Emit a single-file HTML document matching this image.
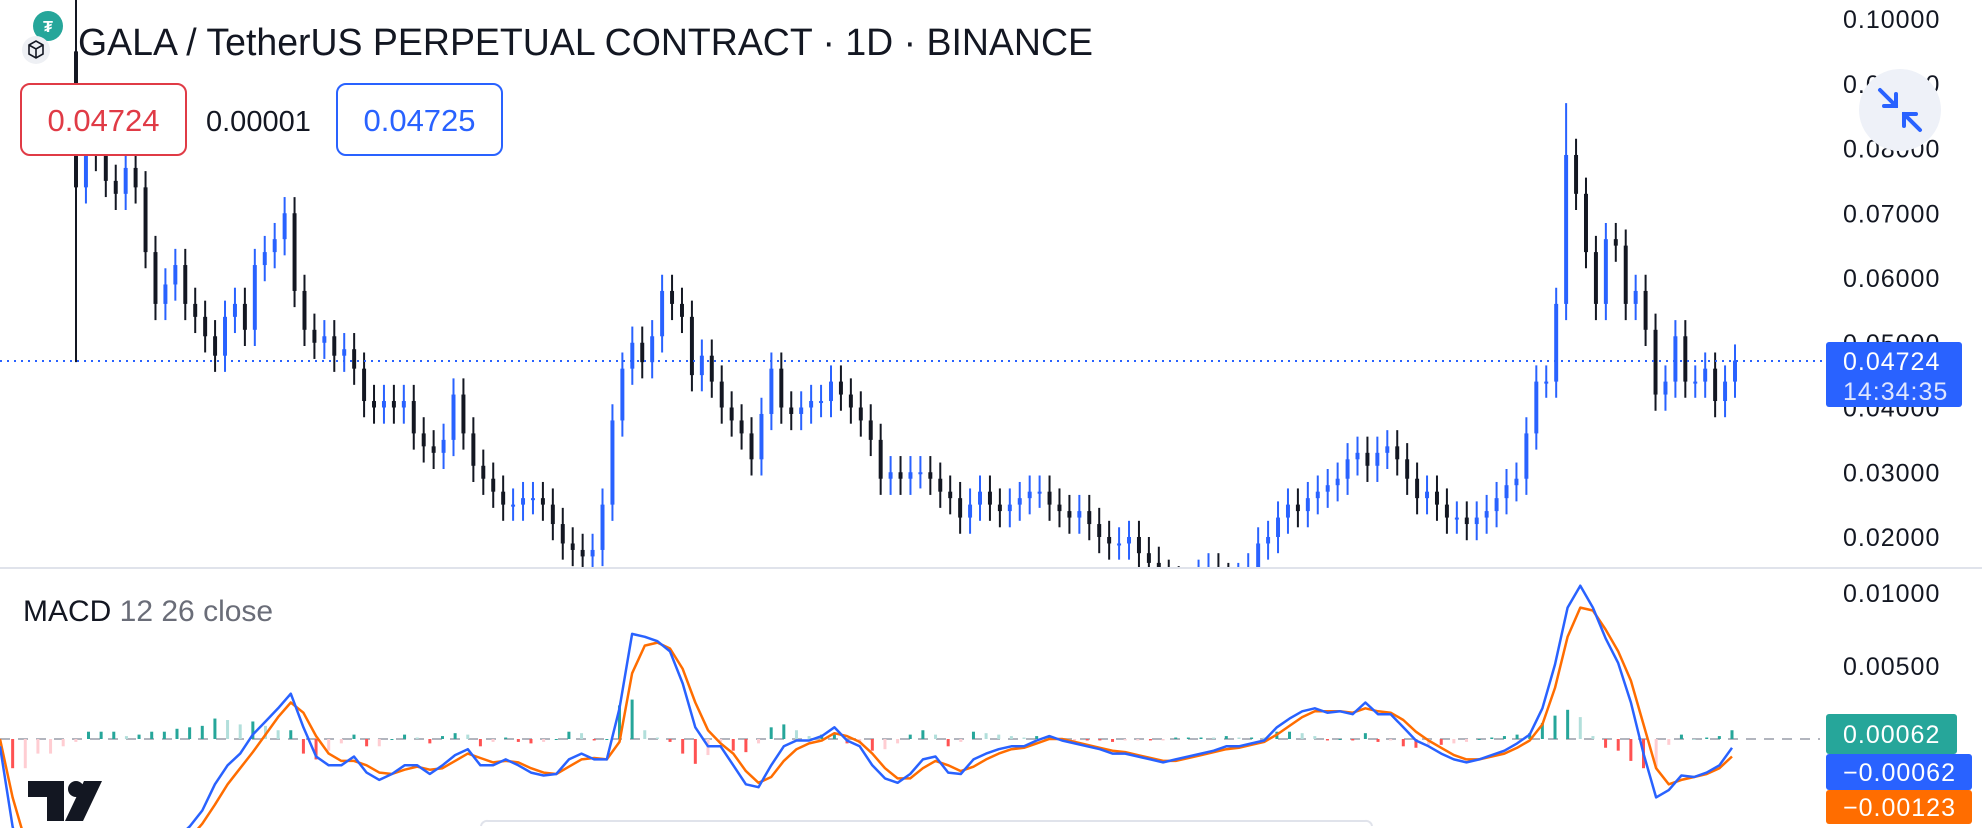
<!DOCTYPE html>
<html><head><meta charset="utf-8"><style>
html,body{margin:0;padding:0;background:#fff;width:1982px;height:828px;overflow:hidden;font-family:"Liberation Sans",sans-serif}
svg{display:block}
</style></head><body>
<svg id="c" width="1982" height="828" viewBox="0 0 1982 828" xmlns="http://www.w3.org/2000/svg" font-family="Liberation Sans, sans-serif">
<defs>
<clipPath id="pc"><rect x="0" y="0" width="1820" height="567"/></clipPath>
<clipPath id="mc"><rect x="0" y="569" width="1820" height="259"/></clipPath>
</defs>
<g id="priceG" clip-path="url(#pc)"></g>
<g id="macdG" clip-path="url(#mc)"></g>
<line x1="0" y1="568" x2="1982" y2="568" stroke="#e0e3eb" stroke-width="2"/>
<g id="axisG"></g>
<g id="maxisG"></g>

<line x1="0" y1="361" x2="1826" y2="361" stroke="#2962ff" stroke-width="2" stroke-dasharray="2,5" id="curLine"/>

<g>
<circle cx="48" cy="26" r="15" fill="#26a69a"/>
<text x="48" y="32" font-size="16" fill="#fff" text-anchor="middle" font-weight="bold">₮</text>
<circle cx="36" cy="50" r="14" fill="#eef0f4"/>
<path d="M29 45 l7 -4 l7 4 v9 l-7 4 l-7 -4z M29 45 l7 4 l7 -4 M36 49 v9" fill="none" stroke="#131722" stroke-width="1.6"/>
</g>
<text x="78" y="55" font-size="38" fill="#131722" textLength="1015" lengthAdjust="spacingAndGlyphs">GALA / TetherUS PERPETUAL CONTRACT · 1D · BINANCE</text>

<g>
<rect x="21" y="84" width="165" height="71" rx="9" fill="#fff" stroke="#e03b46" stroke-width="2"/>
<text x="103.5" y="131" font-size="31" fill="#e03b46" text-anchor="middle">0.04724</text>
</g>
<text x="206" y="131" font-size="29" fill="#131722">0.00001</text>
<g>
<rect x="337" y="84" width="165" height="71" rx="9" fill="#fff" stroke="#2962ff" stroke-width="2"/>
<text x="419.5" y="131" font-size="31" fill="#2962ff" text-anchor="middle">0.04725</text>
</g>

<text x="23" y="621" font-size="30" fill="#131722">MACD <tspan fill="#6a6d78">12 26 close</tspan></text>

<g>
<path d="M28 781 h36 v40 h-17 v-24 h-19z" fill="#131722"/>
<circle cx="76" cy="789" r="8" fill="#131722"/>
<path d="M84 781 h18 l-19 40 h-18z" fill="#131722"/>
</g>

<path d="M481 826 a6 6 0 0 1 7 -5 h877 a6 6 0 0 1 7 5" fill="#fff" stroke="#e0e3eb" stroke-width="2"/>

<g>
<circle cx="1900" cy="110" r="41" fill="#eef1f8"/>
<path d="M1880 90 l16 16 M1896 94 v12 h-12 M1920 130 l-16 -16 M1904 126 v-12 h12" fill="none" stroke="#2962ff" stroke-width="4" stroke-linecap="round"/>
</g>

<g>
<rect x="1826" y="342" width="136" height="65" rx="3" fill="#2962ff"/>
<text x="1843" y="370" font-size="25" fill="#fff" letter-spacing="1">0.04724</text>
<text x="1843" y="400" font-size="25" fill="#dfe6ff" letter-spacing="1">14:34:35</text>
</g>
<g>
<rect x="1826" y="714" width="131" height="40" rx="3" fill="#26a69a"/>
<text x="1843" y="743" font-size="25" fill="#fff" letter-spacing="1">0.00062</text>
</g>
<g>
<rect x="1826" y="754" width="146" height="36" rx="3" fill="#2962ff"/>
<text x="1843" y="781" font-size="25" fill="#fff" letter-spacing="1">−0.00062</text>
</g>
<g>
<rect x="1826" y="790" width="146" height="34" rx="3" fill="#ff6d00"/>
<text x="1843" y="816" font-size="25" fill="#fff" letter-spacing="1">−0.00123</text>
</g>
</svg>
<script>
const closes=[0.074,0.081,0.079,0.075,0.073,0.077,0.074,0.064,0.056,0.059,0.062,0.056,0.054,0.051,0.048,0.054,0.056,0.052,0.062,0.064,0.066,0.070,0.058,0.052,0.050,0.051,0.048,0.049,0.046,0.041,0.040,0.041,0.040,0.041,0.036,0.034,0.033,0.035,0.042,0.036,0.031,0.029,0.027,0.025,0.025,0.026,0.026,0.025,0.022,0.019,0.018,0.017,0.018,0.025,0.038,0.046,0.050,0.047,0.051,0.058,0.056,0.054,0.045,0.048,0.044,0.040,0.038,0.036,0.032,0.039,0.046,0.040,0.039,0.040,0.041,0.041,0.044,0.042,0.040,0.038,0.035,0.029,0.030,0.029,0.030,0.030,0.029,0.027,0.026,0.023,0.025,0.027,0.025,0.024,0.025,0.026,0.027,0.027,0.025,0.024,0.023,0.024,0.022,0.020,0.019,0.019,0.020,0.0175,0.016,0.014,0.013,0.012,0.0125,0.014,0.015,0.0135,0.013,0.0135,0.015,0.019,0.020,0.023,0.025,0.024,0.026,0.027,0.028,0.029,0.032,0.033,0.031,0.033,0.034,0.032,0.029,0.026,0.027,0.025,0.023,0.023,0.022,0.023,0.024,0.026,0.028,0.029,0.036,0.044,0.044,0.056,0.079,0.073,0.064,0.056,0.066,0.065,0.056,0.058,0.052,0.042,0.044,0.051,0.044,0.044,0.046,0.041,0.044,0.04724];
const firstOpen=0.095;
const firstHigh=0.106;
const peakHigh=0.087;
const priceTicks=[0.10,0.09,0.08,0.07,0.06,0.05,0.04,0.03,0.02];
const macdLine=[-0.0005,-0.006,-0.009,-0.010,-0.011,-0.011,-0.011,-0.010,-0.0095,-0.009,-0.0088,-0.0085,-0.008,-0.0075,-0.0068,-0.0060,-0.0049,-0.0031,-0.0018,-0.0010,0.0003,0.0012,0.0021,0.0031,0.0008,-0.0012,-0.0018,-0.0018,-0.0012,-0.0023,-0.0028,-0.0024,-0.0018,-0.0018,-0.0024,-0.0018,-0.0011,-0.0007,-0.0018,-0.0018,-0.0014,-0.0018,-0.0023,-0.0025,-0.0024,-0.0014,-0.0010,-0.0014,-0.0014,0.0021,0.0072,0.0070,0.0067,0.0060,0.0038,0.0008,-0.0005,-0.0005,-0.0018,-0.0031,-0.0033,-0.0018,-0.0005,-0.0001,-0.0001,0.0002,0.0008,-0.0001,-0.0005,-0.0018,-0.0027,-0.0030,-0.0024,-0.0014,-0.0012,-0.0023,-0.0024,-0.0014,-0.0010,-0.0007,-0.0005,-0.0005,-0.0001,0.0002,-0.0001,-0.0003,-0.0005,-0.0007,-0.0010,-0.0010,-0.0012,-0.0014,-0.0016,-0.0014,-0.0012,-0.0010,-0.0008,-0.0005,-0.0005,-0.0003,-0.0001,0.0008,0.0014,0.0019,0.0021,0.0018,0.0019,0.0017,0.0025,0.0017,0.0017,0.0008,-0.0001,-0.0005,-0.0010,-0.0014,-0.0016,-0.0014,-0.0011,-0.0008,-0.0003,0.0003,0.0021,0.0051,0.0090,0.0105,0.0090,0.0069,0.0052,0.0025,-0.0010,-0.0040,-0.0035,-0.0025,-0.0026,-0.0023,-0.0018,-0.0006];
const signalLine=[0.0,-0.004,-0.007,-0.009,-0.010,-0.0105,-0.0108,-0.0105,-0.010,-0.0095,-0.009,-0.0088,-0.0085,-0.008,-0.0075,-0.0068,-0.0058,-0.0045,-0.0031,-0.0020,-0.0009,0.0003,0.0015,0.0025,0.0018,0.0002,-0.0010,-0.0015,-0.0015,-0.0018,-0.0023,-0.0024,-0.0021,-0.0019,-0.0021,-0.0020,-0.0015,-0.0010,-0.0013,-0.0016,-0.0015,-0.0016,-0.0020,-0.0023,-0.0024,-0.0019,-0.0014,-0.0013,-0.0014,-0.0002,0.0045,0.0064,0.0066,0.0062,0.0048,0.0025,0.0006,-0.0003,-0.0010,-0.0022,-0.0030,-0.0026,-0.0015,-0.0007,-0.0003,-0.0001,0.0004,0.0002,-0.0002,-0.0010,-0.0020,-0.0027,-0.0027,-0.0020,-0.0015,-0.0018,-0.0022,-0.0019,-0.0014,-0.0010,-0.0007,-0.0006,-0.0003,0.0000,0.0000,-0.0002,-0.0004,-0.0006,-0.0008,-0.0009,-0.0011,-0.0013,-0.0015,-0.0015,-0.0013,-0.0011,-0.0009,-0.0007,-0.0006,-0.0004,-0.0002,0.0003,0.0009,0.0015,0.0019,0.0019,0.0019,0.0018,0.0021,0.0019,0.0018,0.0013,0.0005,-0.0001,-0.0006,-0.0011,-0.0014,-0.0014,-0.0012,-0.0010,-0.0006,-0.0001,0.0010,0.0035,0.0070,0.0090,0.0088,0.0075,0.0060,0.0040,0.0010,-0.0020,-0.0031,-0.0028,-0.0026,-0.0024,-0.0020,-0.0012];
const macdTicks=[0.01,0.005,0.0];
const macdTickLabels=["0.01000","0.00500","0.00000"];

const NS="http://www.w3.org/2000/svg";
function mk(tag,attrs,parent){const e=document.createElementNS(NS,tag);for(const k in attrs)e.setAttribute(k,attrs[k]);parent.appendChild(e);return e;}
const yP=p=>Math.max(0,Math.min(827,537-(p-0.02)*6475));
const yRaw=v=>739-v*14600;
const yM=v=>Math.max(569,Math.min(827,yRaw(v)));
const xC=i=>76+i*(1735-76)/(closes.length-1);
const xM=i=>i*(1732)/(macdLine.length-1);

const pg=document.getElementById('priceG');
const cw=(1735-76)/(closes.length-1);
let maxIdx=0;closes.forEach((c,i)=>{if(i>100&&c>closes[maxIdx])maxIdx=i;});
for(let i=0;i<closes.length;i++){
  const o=i===0?firstOpen:closes[i-1], c=closes[i];
  const up=c>=o, col=up?'#2962ff':'#131722';
  let hi=Math.max(o,c)+0.0025, lo=Math.min(o,c)-0.0025;
  if(i===0){hi=firstHigh;lo=0.047;}
  if(i===maxIdx)hi=peakHigh;
  const x=xC(i);
  const w=mk('line',{x1:x,x2:x,y1:yP(hi),y2:yP(lo),stroke:col,'stroke-width':2},pg);
  
  
  const top=yP(Math.max(o,c)), bot=yP(Math.min(o,c));
  const b=mk('rect',{x:x-cw*0.2,y:top,width:cw*0.4,height:Math.max(2,bot-top),fill:col},pg);
  
  
}
const ax=document.getElementById('axisG');
priceTicks.forEach(t=>{const e=mk('text',{x:1843,y:yP(t)+9,'font-size':25,fill:'#131722','letter-spacing':1},ax);e.textContent=t.toFixed(5);

});
const max=document.getElementById('maxisG');
macdTicks.forEach((t,i)=>{const e=mk('text',{x:1843,y:Math.min(825,yM(t)+9),'font-size':25,fill:'#131722','letter-spacing':1},max);e.textContent=macdTickLabels[i];

});
document.getElementById('c').insertBefore(max,document.getElementById('curLine'));

const mg=document.getElementById('macdG');
const zl=mk('line',{x1:0,x2:1826,y1:yM(0),y2:yM(0),stroke:'#b2b5be','stroke-width':2,'stroke-dasharray':'10,8'},mg);


for(let i=0;i<macdLine.length;i++){
  const h=macdLine[i]-signalLine[i];
  const prev=i>0?macdLine[i-1]-signalLine[i-1]:h;
  const col=h>=0?(h>=prev?'#26a69a':'#b2dfdb'):(h<prev?'#ff5252':'#ffcdd2');
  const y0=yM(0),y1=yM(h);
  const r=mk('rect',{x:xM(i)-1.5,y:Math.min(y0,y1),width:3,height:Math.max(1,Math.abs(y1-y0)),fill:col},mg);
  
  
}
const YB=829;
function line(arr,col,name){
  let d='',pen=false;
  for(let i=0;i<arr.length-1;i++){
    let x1=xM(i),y1=yRaw(arr[i]),x2=xM(i+1),y2=yRaw(arr[i+1]);
    if(y1>YB&&y2>YB){pen=false;continue;}
    if(y1>YB){x1=x1+(x2-x1)*(YB-y1)/(y2-y1);y1=YB;}
    let endClipped=false;
    if(y2>YB){x2=x1+(x2-x1)*(YB-y1)/(y2-y1);y2=YB;endClipped=true;}
    if(!pen){d+='M'+x1.toFixed(1)+' '+y1.toFixed(1);pen=true;}
    d+='L'+x2.toFixed(1)+' '+y2.toFixed(1);
    if(endClipped)pen=false;
  }
  const p=mk('path',{d:d,fill:'none',stroke:col,'stroke-width':2.5,'stroke-linejoin':'round'},mg);
  
  
}
line(signalLine,'#ff6d00','signal-line');
line(macdLine,'#2962ff','macd-line');
</script>
</body></html>
